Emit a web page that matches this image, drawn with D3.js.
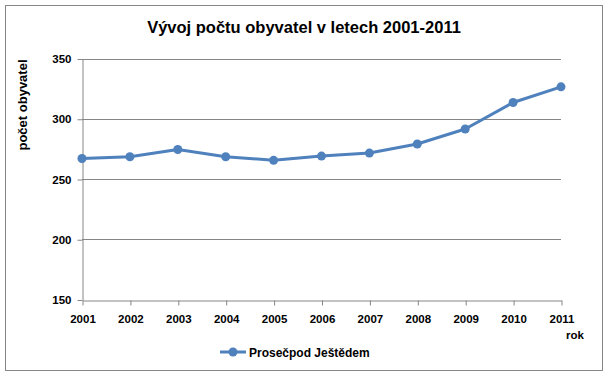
<!DOCTYPE html>
<html>
<head>
<meta charset="utf-8">
<script src="https://cdnjs.cloudflare.com/ajax/libs/d3/7.9.0/d3.min.js"></script>
<style>
  body { margin: 0; background: #fff; }
  svg { display: block; }
  text { font-family: "Liberation Sans", Arial, sans-serif; font-weight: bold; fill: #000; }
</style>
</head>
<body>
<div id="graf"></div>
<script>
// data vyčtená z obrázku
const roky = ["2001", "2002", "2003", "2004", "2005", "2006", "2007", "2008", "2009", "2010", "2011"];
const obyvatel = [267, 268.5, 274.5, 268.5, 265.5, 269, 271.5, 279, 291.5, 313.5, 326.5];
const yTicks = [150, 200, 250, 300, 350];
const nazevRady = "Prosečpod Ještědem";

const W = 612, H = 379;
const plot = { left: 82, right: 561, top: 58.5, bottom: 299.5 };
const MODRA = "#4F81BD";
const SEDA = "#868686";

const svg = d3.select("#graf").append("svg")
  .attr("width", W)
  .attr("height", H);

// rámeček grafu
svg.append("rect")
  .attr("x", 5.5).attr("y", 5.5)
  .attr("width", 597).attr("height", 365)
  .attr("fill", "#fff")
  .attr("stroke", SEDA)
  .attr("stroke-width", 1);

svg.append("text")
  .attr("x", 304).attr("y", 33)
  .attr("text-anchor", "middle")
  .style("font-size", "16.5px")
  .text("Vývoj počtu obyvatel v letech 2001-2011");

const x = d3.scalePoint().domain(roky).range([plot.left, plot.right]);
const y = d3.scaleLinear().domain([150, 350]).range([plot.bottom, plot.top]);

// mřížka
svg.append("g")
  .selectAll("line")
  .data(yTicks.slice(1))
  .join("line")
  .attr("x1", plot.left).attr("x2", plot.right)
  .attr("y1", d => Math.round(y(d)) + 0.5)
  .attr("y2", d => Math.round(y(d)) + 0.5)
  .attr("stroke", SEDA);

// osa y
const osaY = svg.append("g")
  .attr("transform", `translate(${plot.left + 0.5},0.5)`)
  .call(d3.axisLeft(y).tickValues(yTicks).tickSize(5).tickPadding(6).tickSizeOuter(0));
osaY.select(".domain").attr("stroke", SEDA);
osaY.selectAll(".tick line").attr("stroke", SEDA);
osaY.selectAll(".tick text").style("font-size", "11.5px").attr("fill", "#000");

// osa x
const osaX = svg.append("g")
  .attr("transform", `translate(0.5,${Math.round(plot.bottom) + 0.5})`)
  .call(d3.axisBottom(x).tickSize(5).tickPadding(9).tickSizeOuter(0));
osaX.select(".domain").attr("stroke", SEDA);
osaX.selectAll(".tick line").attr("stroke", SEDA);
osaX.selectAll(".tick text").style("font-size", "11.5px").attr("fill", "#000");

// popisky os
svg.append("text")
  .attr("transform", "translate(27,105) rotate(-90)")
  .attr("text-anchor", "middle")
  .style("font-size", "13px")
  .text("počet obyvatel");

svg.append("text")
  .attr("x", 566).attr("y", 339)
  .style("font-size", "11.5px")
  .text("rok");

// datová řada
const linka = d3.line()
  .x((d, i) => x(roky[i]))
  .y(d => y(d));

svg.append("path")
  .datum(obyvatel)
  .attr("d", linka)
  .attr("fill", "none")
  .attr("stroke", MODRA)
  .attr("stroke-width", 3)
  .attr("stroke-linejoin", "round");

svg.append("g")
  .selectAll("circle")
  .data(obyvatel)
  .join("circle")
  .attr("cx", (d, i) => x(roky[i]))
  .attr("cy", d => y(d))
  .attr("r", 4.5)
  .attr("fill", MODRA);

// legenda
const leg = svg.append("g").attr("transform", "translate(220,352)");
leg.append("line")
  .attr("x1", 0).attr("x2", 26)
  .attr("stroke", MODRA).attr("stroke-width", 3);
leg.append("circle")
  .attr("cx", 13).attr("r", 4.5).attr("fill", MODRA);
leg.append("text")
  .attr("x", 29).attr("y", 4.5)
  .style("font-size", "12px")
  .text(nazevRady);
</script>
</body>
</html>
